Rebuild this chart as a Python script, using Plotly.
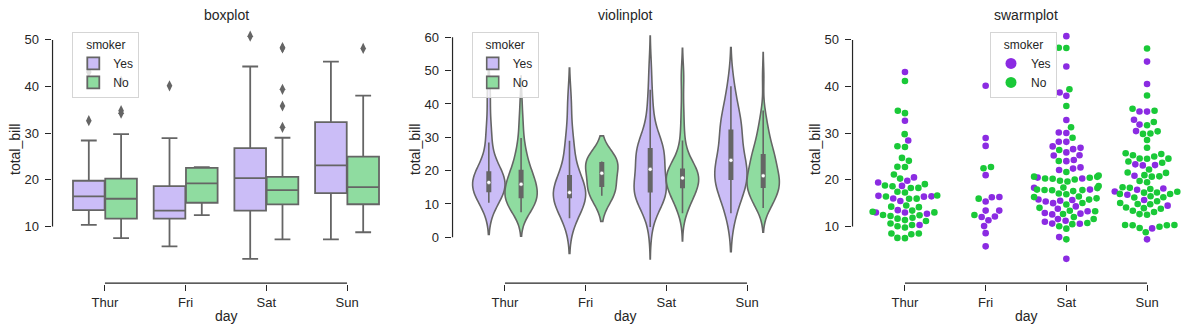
import numpy as np
import plotly.graph_objects as go

# ---------------- data (tips dataset: total_bill by day & smoker) ----------------
days = ["Thur", "Fri", "Sat", "Sun"]
smoker_levels = ["Yes", "No"]

thur_yes = [19.44, 32.68, 16.00, 19.81, 28.44, 15.48, 16.58, 10.34, 43.11, 13.00,
            13.51, 18.71, 12.74, 13.00, 16.40, 20.53, 16.47]
thur_no = [27.20, 22.76, 17.29, 16.66, 10.07, 15.98, 34.83, 13.03, 18.28, 24.71,
           21.16, 10.65, 12.43, 24.08, 11.69, 13.42, 14.26, 15.95, 12.48, 29.80,
           8.52, 14.52, 11.38, 22.82, 19.08, 20.27, 11.17, 12.26, 18.26, 8.51,
           10.33, 14.15, 13.16, 17.47, 34.30, 41.19, 27.05, 16.43, 8.35, 18.64,
           11.87, 9.78, 7.51, 7.56, 18.78]
fri_yes = [28.97, 5.75, 16.32, 40.17, 27.28, 12.03, 21.01, 11.35, 15.38, 12.16,
           13.42, 8.58, 13.42, 16.27, 10.09]
fri_no = [22.49, 22.75, 12.46, 15.98]
sat_yes = [38.01, 11.24, 20.29, 13.81, 11.02, 18.29, 3.07, 15.01, 26.86, 25.28,
           17.92, 44.30, 22.42, 15.36, 20.49, 25.21, 14.31, 10.59, 10.63, 50.81,
           15.81, 26.59, 38.73, 24.27, 12.76, 30.06, 25.89, 13.27, 28.17, 12.90,
           28.15, 11.59, 7.74, 30.14, 22.12, 24.01, 15.69, 15.53, 12.60, 32.83,
           27.18, 22.67]
sat_no = [20.65, 17.92, 20.29, 15.77, 39.42, 19.82, 17.81, 13.37, 12.69, 21.70,
          19.65, 9.55, 18.35, 15.06, 20.69, 17.78, 24.06, 16.31, 16.93, 18.69,
          31.27, 16.04, 26.41, 48.27, 17.59, 20.08, 16.45, 20.23, 12.02, 17.07,
          14.73, 10.51, 20.92, 18.24, 14.00, 7.25, 48.33, 20.45, 13.28, 11.61,
          10.77, 10.07, 35.83, 29.03, 17.82]
sun_yes = [17.51, 7.25, 31.85, 16.82, 32.90, 17.89, 14.48, 9.60, 34.63, 34.65,
           23.33, 45.35, 23.17, 40.55, 20.90, 30.46, 18.15, 23.10, 15.69]
sun_no = [16.99, 10.34, 21.01, 23.68, 24.59, 25.29, 8.77, 26.88, 15.04, 14.78,
          10.27, 35.26, 15.42, 18.43, 14.83, 21.58, 10.33, 16.29, 16.97, 17.46,
          13.94, 9.68, 30.40, 18.29, 22.23, 32.40, 28.55, 18.04, 12.54, 10.29,
          34.81, 9.94, 25.56, 19.49, 38.07, 23.95, 25.71, 17.31, 29.93, 14.07,
          13.13, 17.26, 24.55, 19.77, 29.85, 48.17, 25.00, 13.39, 16.49, 21.50,
          12.66, 16.21, 13.81, 24.52, 20.76, 31.71, 20.69]

groups = {
    ("Thur", "Yes"): thur_yes, ("Thur", "No"): thur_no,
    ("Fri", "Yes"): fri_yes, ("Fri", "No"): fri_no,
    ("Sat", "Yes"): sat_yes, ("Sat", "No"): sat_no,
    ("Sun", "Yes"): sun_yes, ("Sun", "No"): sun_no,
}

# ---------------- style ----------------
W, H = 1200, 332
FONT = "Liberation Sans, Arial, sans-serif"
TXT = "#262626"
GRAY = "#656565"
PASTEL = {"Yes": "#cbbdf7", "No": "#8fdca0"}
BRIGHT = {"Yes": "#8b2be2", "No": "#1ac938"}
HUE_OFF = {"Yes": -0.2, "No": 0.2}

AX_L, AX_R = 64.6, 387.4          # data-area pixel span inside each 400px panel
AX_T, AX_B = 25.0, 270.0          # data-area pixel span vertically
XSPINE_PX = 283.0                 # offset x spine (px from top)
YSPINE_PX = 52.5                  # offset y spine (px from panel left)
DOM_B = XSPINE_PX + 1.0           # plot area extended to include the spines
DOM_L = YSPINE_PX - 1.0
XRANGE0 = [-0.5, 3.5]
ppx = (AX_R - AX_L) / (XRANGE0[1] - XRANGE0[0])
xrange_ext = [XRANGE0[0] - (AX_L - DOM_L) / ppx, XRANGE0[1]]
xspine_val = XRANGE0[0] - (AX_L - YSPINE_PX) / ppx

ydom = [(H - DOM_B) / H, (H - AX_T) / H]


def box_stats(vals):
    a = np.sort(np.array(vals))
    q1, med, q3 = np.percentile(a, [25, 50, 75])
    lim = 1.5 * (q3 - q1)
    lf = a[a >= q1 - lim].min()
    uf = a[a <= q3 + lim].max()
    out = a[(a < lf) | (a > uf)]
    return float(q1), float(med), float(q3), float(lf), float(uf), [float(o) for o in out]


fig = go.Figure()

all_vals = np.concatenate([np.array(v) for v in groups.values()])
lo, hi = float(all_vals.min()), float(all_vals.max())
pad = 0.05 * (hi - lo)
box_range = [lo - pad, hi + pad]

# violin range from kde support (cut = 2 bandwidths, Scott's rule)
bws = {}
vlo, vhi = np.inf, -np.inf
for k, v in groups.items():
    a = np.array(v)
    bw = float(a.std(ddof=1) * len(a) ** (-0.2))
    bws[k] = bw
    vlo = min(vlo, float(a.min()) - 2 * bw)
    vhi = max(vhi, float(a.max()) + 2 * bw)
vpad = 0.05 * (vhi - vlo)
violin_range = [vlo - vpad, vhi + vpad]

# ---------------- panel 1: boxplot ----------------
for s in smoker_levels:
    xs, q1s, meds, q3s, lfs, ufs = [], [], [], [], [], []
    ox, oy = [], []
    for i, d in enumerate(days):
        q1, med, q3, lf, uf, out = box_stats(groups[(d, s)])
        p = i + HUE_OFF[s]
        xs.append(p); q1s.append(q1); meds.append(med); q3s.append(q3)
        lfs.append(lf); ufs.append(uf)
        ox += [p] * len(out); oy += out
    fig.add_trace(go.Box(
        x=xs, q1=q1s, median=meds, q3=q3s, lowerfence=lfs, upperfence=ufs,
        name=s, width=0.392, fillcolor=PASTEL[s],
        line=dict(color=GRAY, width=1.8), whiskerwidth=0.5, boxpoints=False,
        xaxis="x", yaxis="y", legend="legend", showlegend=True, hoverinfo="skip"))
    fig.add_trace(go.Scatter(
        x=ox, y=oy, mode="markers",
        marker=dict(symbol="diamond-tall", size=8, color=GRAY, line=dict(width=0)),
        xaxis="x", yaxis="y", showlegend=False, hoverinfo="skip"))

# ---------------- panel 2: violinplot ----------------
for s in smoker_levels:
    for i, d in enumerate(days):
        vals = groups[(d, s)]
        pos = i + HUE_OFF[s]
        fig.add_trace(go.Violin(
            x=[pos] * len(vals), y=vals, name=s, width=0.4,
            bandwidth=bws[(d, s)], spanmode="soft",
            scalegroup=d, scalemode="width",
            fillcolor=PASTEL[s], line=dict(color=GRAY, width=1.6),
            points=False, meanline=dict(visible=False), box=dict(visible=False),
            xaxis="x2", yaxis="y2", legend="legend2",
            legendgroup="v" + s, showlegend=(i == 0), hoverinfo="skip"))
# inner boxes (seaborn style): thin whisker line, thick IQR bar, white median dot
wx, wy, bx, by, mx, my = [], [], [], [], [], []
for s in smoker_levels:
    for i, d in enumerate(days):
        q1, med, q3, lf, uf, _ = box_stats(groups[(d, s)])
        p = i + HUE_OFF[s]
        wx += [p, p, None]; wy += [lf, uf, None]
        bx += [p, p, None]; by += [q1, q3, None]
        mx.append(p); my.append(med)
fig.add_trace(go.Scatter(x=wx, y=wy, mode="lines", line=dict(color=GRAY, width=1.6),
                         xaxis="x2", yaxis="y2", showlegend=False, hoverinfo="skip"))
fig.add_trace(go.Scatter(x=bx, y=by, mode="lines", line=dict(color=GRAY, width=5),
                         xaxis="x2", yaxis="y2", showlegend=False, hoverinfo="skip"))
fig.add_trace(go.Scatter(x=mx, y=my, mode="markers",
                         marker=dict(color="white", size=4, line=dict(color=GRAY, width=0.5)),
                         xaxis="x2", yaxis="y2", showlegend=False, hoverinfo="skip"))

# ---------------- panel 3: swarmplot ----------------
ppy = (AX_B - AX_T) / (box_range[1] - box_range[0])
D = 7.2


def beeswarm(ypx, d):
    placed = []
    for yi in ypx:
        neigh = []
        for xj, yj in reversed(placed):
            if yi - yj < d:
                neigh.append((xj, yj))
            else:
                break
        cands = [0.0]
        left_first = True
        for xj, yj in neigh:
            dy = yi - yj
            dx = np.sqrt(max(d * d - dy * dy, 0.0)) * 1.05
            cl, cr = xj - dx, xj + dx
            cands.extend([cl, cr] if left_first else [cr, cl])
            left_first = not left_first
        order = np.argsort(np.abs(np.array(cands)), kind="stable")
        chosen = cands[order[0]]
        for o in order:
            c = cands[o]
            if all((c - xj) ** 2 + (yi - yj) ** 2 >= d * d * 0.999 for xj, yj in neigh):
                chosen = c
                break
        placed.append((chosen, yi))
    return [float(p[0]) for p in placed]


sw = {s: ([], []) for s in smoker_levels}
for i, d in enumerate(days):
    pts = [(v, s) for s in smoker_levels for v in groups[(d, s)]]
    pts.sort(key=lambda t: t[0])
    ypx = [p[0] * ppy for p in pts]
    offs = beeswarm(ypx, D)
    for (v, s), o in zip(pts, offs):
        xo = max(-0.4, min(0.4, o / ppx))
        sw[s][0].append(i + xo)
        sw[s][1].append(v)

for s in smoker_levels:
    fig.add_trace(go.Scatter(x=sw[s][0], y=sw[s][1], mode="markers",
                             marker=dict(color=BRIGHT[s], size=6.6, line=dict(width=0)),
                             xaxis="x3", yaxis="y3", showlegend=False, hoverinfo="skip"))
    fig.add_trace(go.Scatter(x=[None], y=[None], mode="markers", name=s,
                             marker=dict(color=BRIGHT[s], size=11, line=dict(width=0)),
                             xaxis="x3", yaxis="y3", legend="legend3", showlegend=True))

# ---------------- axes / layout ----------------
layout = dict(width=W, height=H, margin=dict(l=0, r=0, t=0, b=0),
              plot_bgcolor="white", paper_bgcolor="white",
              font=dict(family=FONT, color=TXT, size=13),
              boxmode="overlay", violinmode="overlay", showlegend=True)

titles = ["boxplot", "violinplot", "swarmplot"]
yranges = [box_range, violin_range, box_range]
ytickvals = [[10, 20, 30, 40, 50], [0, 10, 20, 30, 40, 50, 60], [10, 20, 30, 40, 50]]
annotations = []
for k in range(3):
    sfx = "" if k == 0 else str(k + 1)
    off = 400 * k
    xdom = [(off + DOM_L) / W, (off + AX_R) / W]
    r = yranges[k]
    yscale = (AX_B - AX_T) / (r[1] - r[0])
    yrange_ext = [r[0] - (DOM_B - AX_B) / yscale, r[1]]
    yspine_val = r[0] - (XSPINE_PX - AX_B) / yscale

    layout["xaxis" + sfx] = dict(
        domain=xdom, range=xrange_ext, anchor="y" + sfx,
        tickvals=[0, 1, 2, 3], ticktext=days, showgrid=False, zeroline=False,
        showline=False, ticks="outside", ticklen=6, tickwidth=1.25, tickcolor=TXT,
        tickfont=dict(size=13, color=TXT, family=FONT), fixedrange=True)
    layout["yaxis" + sfx] = dict(
        domain=ydom, range=yrange_ext, anchor="x" + sfx,
        tickvals=ytickvals[k], showgrid=False, zeroline=False, showline=False,
        ticks="outside", ticklen=6, tickwidth=1.25, tickcolor=TXT,
        ticklabelstandoff=3,
        tickfont=dict(size=13, color=TXT, family=FONT), fixedrange=True)

    # offset, trimmed spines drawn inside the (extended) plot area
    fig.add_trace(go.Scatter(
        x=[0, 3, None, xspine_val, xspine_val],
        y=[yspine_val, yspine_val, None, ytickvals[k][0], ytickvals[k][-1]],
        mode="lines", line=dict(color=TXT, width=1.25),
        xaxis="x" + sfx, yaxis="y" + sfx, showlegend=False, hoverinfo="skip"))

    cx = (off + (AX_L + AX_R) / 2) / W
    annotations.append(dict(text=titles[k], x=cx, y=(H - 15) / H, xref="paper", yref="paper",
                            showarrow=False, font=dict(size=14, color=TXT, family=FONT),
                            xanchor="center", yanchor="middle"))
    annotations.append(dict(text="day", x=cx, y=(H - 316) / H, xref="paper", yref="paper",
                            showarrow=False, font=dict(size=14, color=TXT, family=FONT),
                            xanchor="center", yanchor="middle"))
    annotations.append(dict(text="total_bill", x=(off + 15) / W, y=(H - 150) / H,
                            xref="paper", yref="paper", textangle=-90, showarrow=False,
                            font=dict(size=14, color=TXT, family=FONT),
                            xanchor="center", yanchor="middle"))

legend_x = [72.3, 471.7, 990.0]
for k in range(3):
    name = "legend" if k == 0 else "legend" + str(k + 1)
    layout[name] = dict(
        x=legend_x[k] / W, y=(H - 32.3) / H, xanchor="left", yanchor="top",
        title=dict(text="smoker", side="top center", font=dict(size=12, color=TXT, family=FONT)),
        font=dict(size=12, color=TXT, family=FONT),
        bgcolor="rgba(255,255,255,0.8)", bordercolor="#d5d5d5", borderwidth=1,
        tracegroupgap=0)

layout["annotations"] = annotations
fig.update_layout(**layout)

fig.write_html("out.html")
